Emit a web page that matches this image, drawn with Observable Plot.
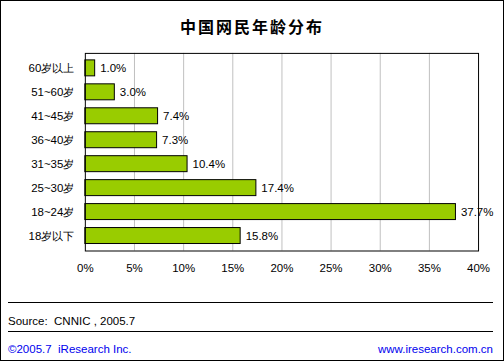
<!DOCTYPE html>
<html>
<head>
<meta charset="utf-8">
<script src="https://cdn.jsdelivr.net/npm/d3@7"></script>
<script src="https://cdn.jsdelivr.net/npm/@observablehq/plot@0.6"></script>
<style>
  html, body { margin: 0; padding: 0; background: #fff; }
  #wrap { position: relative; width: 504px; height: 361px; box-sizing: border-box; border: 1px solid #000; overflow: hidden; font-family: "Liberation Sans", "DejaVu Sans", sans-serif; }
  #title { position: absolute; left: 0; right: 0; top: 13px; text-align: center; font-family: "Noto Sans CJK SC", sans-serif; font-weight: bold; font-size: 16px; letter-spacing: 2px; color: #000; }
  #chart { position: absolute; left: -1px; top: -1px; }
  .hline { position: absolute; left: 7px; width: 485px; height: 0; border-top: 1px solid #000; }
  #source { position: absolute; left: 7px; top: 314px; font-size: 11.5px; color: #000; }
  #copy { position: absolute; left: 7px; top: 342px; font-size: 11.5px; color: #0000ee; }
  #url { position: absolute; right: 10px; top: 342px; font-size: 11.5px; color: #0000ee; }
</style>
</head>
<body>
<div id="wrap">
  <div id="title">中国网民年龄分布</div>
  <div id="chart"></div>
  <div class="hline" style="top:301px"></div>
  <div id="source">Source:&nbsp; CNNIC , 2005.7</div>
  <div class="hline" style="top:330px"></div>
  <div id="copy">©2005.7&nbsp; iResearch Inc.</div>
  <div id="url">www.iresearch.com.cn</div>
</div>
<script>
const categories = ["60岁以上", "51~60岁", "41~45岁", "36~40岁", "31~35岁", "25~30岁", "18~24岁", "18岁以下"];
const values = [1.0, 3.0, 7.4, 7.3, 10.4, 17.4, 37.7, 15.8];
const xTicks = [0, 5, 10, 15, 20, 25, 30, 35, 40];

const data = categories.map((c, i) => ({ age: c, value: values[i] }));

const chart = Plot.plot({
  width: 504,
  height: 290,
  marginLeft: 85,
  marginRight: 25,
  marginTop: 53,
  marginBottom: 39,
  style: { fontFamily: "'Liberation Sans', 'DejaVu Sans', sans-serif", fontSize: "11.5px", color: "#000", background: "transparent" },
  x: { domain: [0, 40], ticks: xTicks, tickFormat: d => d + "%", tickSize: 0, tickPadding: 13, label: null },
  y: { domain: categories, paddingInner: 0.315, paddingOuter: 0.15, tickSize: 0, tickPadding: 11, label: null },
  marks: [
    Plot.ruleX(xTicks.slice(1, -1), { stroke: "#c0c0c0", strokeWidth: 1 }),
    Plot.barX(data, { y: "age", x: "value", fill: "#99cc00", stroke: "#000", strokeWidth: 1 }),
    Plot.text(data, { y: "age", x: "value", text: d => d.value.toFixed(1) + "%", textAnchor: "start", dx: 5, fill: "#000" }),
    Plot.frame({ stroke: "#000", strokeWidth: 1 })
  ]
});
document.getElementById("chart").appendChild(chart);
</script>
</body>
</html>
